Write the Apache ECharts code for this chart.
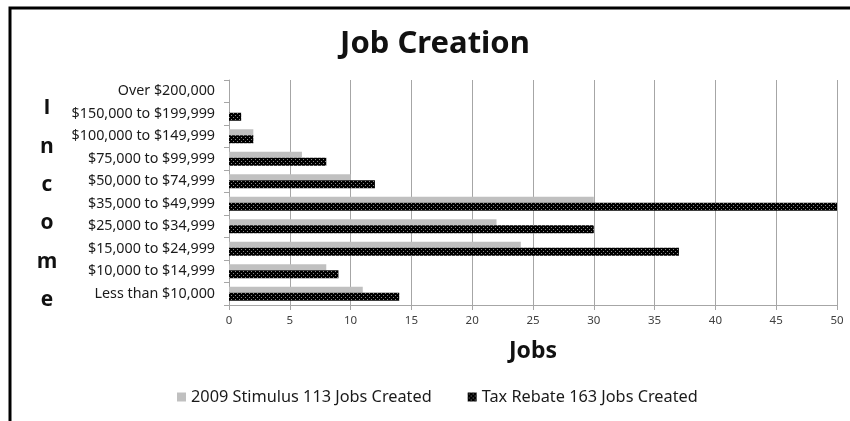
<!DOCTYPE html>
<html>
<head>
<meta charset="utf-8">
<script src="https://cdn.jsdelivr.net/npm/echarts@6/dist/echarts.min.js"></script>
<style>
html,body{margin:0;padding:0;background:#fff;}
#chart{width:850px;height:421px;}
</style>
</head>
<body>
<div id="chart"></div>
<script>
const categories = ['Less than $10,000','$10,000 to $14,999','$15,000 to $24,999','$25,000 to $34,999','$35,000 to $49,999','$50,000 to $74,999','$75,000 to $99,999','$100,000 to $149,999','$150,000 to $199,999','Over $200,000'];
const stimulus = [11, 8, 24, 22, 30, 10, 6, 2, 0, 0];
const taxRebate = [14, 9, 37, 30, 50, 12, 8, 2, 1, 0];
const seriesNames = ['2009 Stimulus 113 Jobs Created', 'Tax Rebate 163 Jobs Created'];
const xTicks = [0, 5, 10, 15, 20, 25, 30, 35, 40, 45, 50];

function makePattern() {
  const c = document.createElement('canvas');
  c.width = 4; c.height = 4;
  const ctx = c.getContext('2d');
  ctx.fillStyle = '#000';
  ctx.fillRect(0, 0, 4, 4);
  ctx.fillStyle = '#8a8a8a';
  ctx.fillRect(1, 1, 1, 1);
  ctx.fillRect(3, 3, 1, 1);
  return c;
}
const pattern = { image: makePattern(), repeat: 'repeat' };

const chart = echarts.init(document.getElementById('chart'), null, { renderer: 'canvas' });
const font = 'Noto Sans';
chart.setOption({
  animation: false,
  backgroundColor: '#fff',
  grid: { left: 229, right: 13, top: 80, bottom: 116, containLabel: false },
  legend: {
    data: seriesNames,
    bottom: 11,
    left: 172,
    itemWidth: 9, itemHeight: 9, itemGap: 36,
    icon: 'rect',
    textStyle: { fontFamily: font, fontSize: 16.3, color: '#1a1a1a' }
  },
  xAxis: {
    type: 'value', min: xTicks[0], max: xTicks[xTicks.length - 1], interval: 5,
    name: 'Jobs', nameLocation: 'middle', nameGap: 35,
    nameTextStyle: { fontFamily: font, fontSize: 23, fontWeight: 'bold', color: '#111' },
    axisLine: { show: true, lineStyle: { color: '#a6a6a6', width: 1 } },
    axisTick: { show: true, length: 5, lineStyle: { color: '#a6a6a6' } },
    axisLabel: { fontFamily: font, fontSize: 11.5, color: '#404040', margin: 10 },
    splitLine: { show: true, lineStyle: { color: '#a6a6a6', width: 1 } }
  },
  yAxis: {
    type: 'category', data: categories,
    axisLine: { show: true, lineStyle: { color: '#a6a6a6' } },
    axisTick: { show: true, length: 5, alignWithLabel: false, lineStyle: { color: '#a6a6a6' } },
    axisLabel: { fontFamily: font, fontSize: 14.3, color: '#1a1a1a', margin: 14 },
    splitLine: { show: false }
  },
  graphic: [
    { type: 'rect', shape: { x: 10, y: 8, width: 900, height: 500 }, style: { fill: 'none', stroke: '#000', lineWidth: 3 }, silent: true },
    { type: 'text', style: { text: 'Job Creation', x: 435, y: 44, textAlign: 'center', textVerticalAlign: 'middle', fontFamily: font, fontSize: 31, fontWeight: 'bold', fill: '#111' } },
    { type: 'text', style: { text: 'I\nn\nc\no\nm\ne', x: 47, y: 89, textAlign: 'center', lineHeight: 38.4, fontFamily: 'Open Sans', fontSize: 21, fontWeight: 'bold', fill: '#111' } }
  ],
  series: [
    { name: seriesNames[0], type: 'bar', data: stimulus, barWidth: 6, barGap: '0%', itemStyle: { color: '#c0c0c0' } },
    { name: seriesNames[1], type: 'bar', data: taxRebate, barWidth: 8, barGap: '0%', itemStyle: { color: pattern } }
  ]
});
</script>
</body>
</html>
